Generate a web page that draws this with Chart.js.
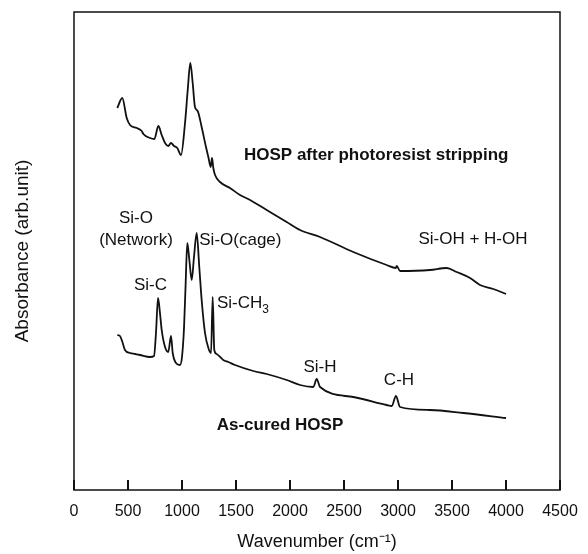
<!DOCTYPE html>
<html>
<head>
<meta charset="utf-8">
<script src="https://cdn.jsdelivr.net/npm/chart.js@4.4.1/dist/chart.umd.min.js"></script>
<style>
  html, body { margin: 0; padding: 0; background: #fff; }
  #wrap { width: 588px; height: 554px; }
</style>
</head>
<body>
<div id="wrap"><canvas id="myChart"></canvas></div>
<script>
/* data (wavenumber, absorbance in arb. units) */
const strippedWave = [401, 447, 488, 519, 581, 627, 642, 704, 744, 781, 812, 843, 873, 898, 926, 956, 991, 1028, 1053, 1077, 1099, 1120, 1145, 1182, 1222, 1244, 1266, 1278, 1290, 1306, 1352, 1444, 1537, 1630, 1784, 1969, 2093, 2278, 2586, 2895, 2980, 2988, 3019, 3296, 3451, 3543, 3667, 3759, 3882, 4000];
const strippedAbs = [382, 392, 372, 365, 362, 359, 356, 352, 351, 364, 355, 347, 344, 347, 344, 342, 335, 367, 400, 427, 407, 383, 379, 363, 343, 333, 323, 332, 322, 315, 308, 302, 295, 290, 280, 268, 260, 253, 238, 225, 222, 224, 219, 220, 222, 218, 212, 205, 201, 196];

const curedWave = [401, 426, 451, 472, 519, 565, 611, 704, 741, 759, 778, 796, 812, 843, 873, 898, 914, 944, 981, 1000, 1019, 1034, 1049, 1068, 1090, 1111, 1136, 1160, 1182, 1213, 1244, 1269, 1284, 1299, 1321, 1382, 1429, 1491, 1660, 1784, 1969, 2093, 2216, 2247, 2278, 2586, 2895, 2942, 2981, 3019, 3296, 3605, 4000];
const curedAbs = [155, 154, 147, 140, 137, 136, 135, 133, 134, 157, 192, 177, 160, 143, 138, 154, 137, 127, 125, 133, 163, 207, 247, 230, 210, 233, 257, 223, 190, 157, 142, 137, 193, 140, 136, 130, 128, 125, 119, 116, 110, 105, 103, 111, 103, 93, 85, 84, 94, 83, 80, 77, 72];

const xTicks = [0, 500, 1000, 1500, 2000, 2500, 3000, 3500, 4000, 4500];

/* peak labels */
const labelText = ["HOSP after photoresist stripping", "Si-O", "(Network)", "Si-O(cage)", "Si-C", "Si-CH", "Si-H", "C-H", "As-cured HOSP", "Si-OH + H-OH"];
const labelWave = [1574, 574, 574, 1160, 708, 1324, 2278, 3009, 1907, 3694];
const labelAbs = [335, 272, 250, 250, 205, 187, 123, 110, 65, 251];
const labelAlign = ["left", "center", "center", "left", "center", "left", "center", "center", "center", "center"];
const labelBold = [true, false, false, false, false, false, false, false, true, false];

const fontName = "'Liberation Sans', Arial, sans-serif";
const ink = "#111";

function toPoints(xs, ys) {
  return xs.map((x, i) => ({ x: x, y: ys[i] }));
}

const framePlugin = {
  id: "frame",
  afterDraw(chart) {
    const { ctx, chartArea, scales } = chart;
    const xs = scales.x, ys = scales.y;
    ctx.save();
    ctx.strokeStyle = ink;
    ctx.lineWidth = 1.5;
    ctx.strokeRect(chartArea.left, chartArea.top, chartArea.right - chartArea.left, chartArea.bottom - chartArea.top);
    // inward tick marks
    ctx.lineWidth = 2;
    xTicks.forEach((t) => {
      const px = xs.getPixelForValue(t);
      ctx.beginPath();
      ctx.moveTo(px, chartArea.bottom);
      ctx.lineTo(px, chartArea.bottom - 10);
      ctx.stroke();
    });
    // labels
    ctx.fillStyle = ink;
    ctx.textBaseline = "middle";
    labelText.forEach((txt, i) => {
      ctx.font = (labelBold[i] ? "bold " : "") + "17px " + fontName;
      ctx.textAlign = labelAlign[i];
      const px = xs.getPixelForValue(labelWave[i]);
      const py = ys.getPixelForValue(labelAbs[i]);
      ctx.fillText(txt, px, py);
      if (txt === "Si-CH") {
        const w = ctx.measureText(txt).width;
        ctx.font = "12px " + fontName;
        ctx.textAlign = "left";
        ctx.fillText("3", px + w, py + 7);
      }
    });
    ctx.restore();
  },
};

let ctx = document.getElementById("myChart");

let lineChart = new Chart(ctx, {
  type: "line",
  data: {
    datasets: [
      {
        label: "HOSP after photoresist stripping",
        data: toPoints(strippedWave, strippedAbs),
        borderColor: ink,
        borderWidth: 1.8,
        pointRadius: 0,
        fill: false,
        cubicInterpolationMode: "monotone",
      },
      {
        label: "As-cured HOSP",
        data: toPoints(curedWave, curedAbs),
        borderColor: ink,
        borderWidth: 1.8,
        pointRadius: 0,
        fill: false,
        cubicInterpolationMode: "monotone",
      },
    ],
  },
  options: {
    responsive: true,
    maintainAspectRatio: false,
    animation: false,
    layout: { padding: { top: 12, right: 28, left: 0, bottom: 0 } },
    plugins: {
      legend: { display: false },
      tooltip: { enabled: false },
    },
    scales: {
      x: {
        type: "linear",
        min: 0,
        max: 4500,
        afterBuildTicks: (scale) => {
          scale.ticks = xTicks.map((v) => ({ value: v }));
        },
        afterFit: (scale) => {
          scale.height = 64;
          scale.paddingLeft = 0;
          scale.paddingRight = 0;
        },
        grid: { display: false, drawTicks: false },
        border: { display: false },
        ticks: {
          color: ink,
          padding: 12,
          maxRotation: 0,
          font: { family: fontName, size: 16 },
          callback: (v) => String(v),
        },
        title: {
          display: true,
          text: "Wavenumber (cm\u207B\u00B9)",
          color: ink,
          font: { family: fontName, size: 18 },
          padding: { top: 0, bottom: 1.5 },
        },
      },
      y: {
        min: 0,
        max: 478,
        afterFit: (scale) => {
          scale.width = 74;
        },
        grid: { display: false, drawTicks: false },
        border: { display: false },
        ticks: { display: false },
        title: {
          display: true,
          text: "Absorbance (arb.unit)",
          color: ink,
          font: { family: fontName, size: 19 },
          padding: { top: 11, bottom: 0 },
        },
      },
    },
  },
  plugins: [framePlugin],
});
</script>
</body>
</html>
